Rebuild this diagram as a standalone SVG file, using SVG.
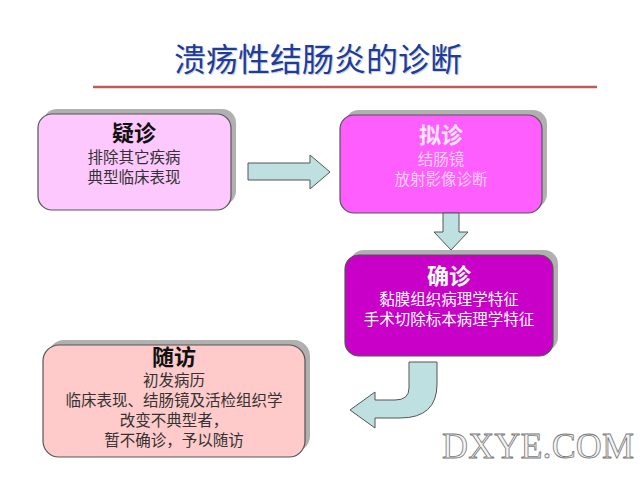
<svg xmlns="http://www.w3.org/2000/svg" width="640" height="480" viewBox="0 0 640 480">
<defs>
<style>
.cjk{font-family:"Noto Sans CJK SC","Liberation Sans",sans-serif;text-anchor:middle}
.head{font-size:22px;font-weight:bold}
.line{font-size:15.5px}
.box{stroke:#555;stroke-width:1.2}
.shadow{fill:#b0b0b0}
.arrow{fill:#bfe0e0;stroke:#555;stroke-width:1}
</style>
</defs>
<rect width="640" height="480" fill="#ffffff"/>
<g id="title">
<text x="319" y="72" class="cjk" font-size="32" fill="#c8d0e8">溃疡性结肠炎的诊断</text>
<text x="318" y="71" class="cjk" font-size="32" fill="#1f3c96">溃疡性结肠炎的诊断</text>
<line x1="93" y1="87" x2="597" y2="87" stroke="#c45a55" stroke-width="2.5"/>
</g>
<g id="node-yizhen">
<rect x="43" y="109" width="193" height="96" rx="14" class="shadow"/>
<rect x="38" y="114" width="193" height="96" rx="14" fill="#fdc8fd" class="box"/>
<text x="134" y="141" class="cjk head" fill="#111">疑诊</text>
<text x="134" y="163" class="cjk line" fill="#333">排除其它疾病</text>
<text x="134" y="183" class="cjk line" fill="#333">典型临床表现</text>
</g>
<g id="node-nizhen">
<rect x="345" y="110" width="202" height="98" rx="14" class="shadow"/>
<rect x="340" y="115" width="202" height="98" rx="14" fill="#fe5efe" class="box"/>
<text x="441" y="143" class="cjk head" fill="#ffe8ff">拟诊</text>
<text x="441" y="165" class="cjk line" fill="#ffd0ff">结肠镜</text>
<text x="441" y="185" class="cjk line" fill="#ffd0ff">放射影像诊断</text>
</g>
<g id="node-quezhen">
<rect x="350" y="250" width="208" height="101" rx="14" class="shadow"/>
<rect x="345" y="255" width="208" height="101" rx="14" fill="#c800c8" class="box"/>
<text x="449" y="284" class="cjk head" fill="#ffffff">确诊</text>
<text x="449" y="305" class="cjk line" fill="#ffffff" font-size="16">黏膜组织病理学特征</text>
<text x="449" y="325" class="cjk line" fill="#ffffff" font-size="16">手术切除标本病理学特征</text>
</g>
<g id="node-suifang">
<rect x="48" y="340" width="262" height="112" rx="16" class="shadow"/>
<rect x="43" y="345" width="262" height="112" rx="16" fill="#fecaca" class="box"/>
<text x="174" y="365" class="cjk head" fill="#111">随访</text>
<text x="174" y="386" class="cjk line" fill="#333" font-size="15">初发病历</text>
<text x="174" y="406" class="cjk line" fill="#333" font-size="15">临床表现、结肠镜及活检组织学</text>
<text x="174" y="426" class="cjk line" fill="#333" font-size="15">改变不典型者，</text>
<text x="174" y="446" class="cjk line" fill="#333" font-size="15">暂不确诊，予以随访</text>
</g>
<g id="connectors">
<path class="arrow" d="M248,163 H310 V155 L330,172 L310,189 V180 H248 Z"/>
<path class="arrow" d="M443,213 H459 V232 H468 L451,250 L434,232 H443 Z"/>
<path class="arrow" d="M409,362 H437 V384 Q437,418 400,418 H375 V428 L350,410 L375,392 V400 H395 Q409,400 409,388 Z"/>
</g>
<g id="watermark">
<text x="442" y="458" font-family="Liberation Serif,serif" font-size="36" fill="#f4f4f4" stroke="#777" stroke-width="0.8" textLength="192" lengthAdjust="spacing">DXYE.COM</text>
</g>
</svg>
